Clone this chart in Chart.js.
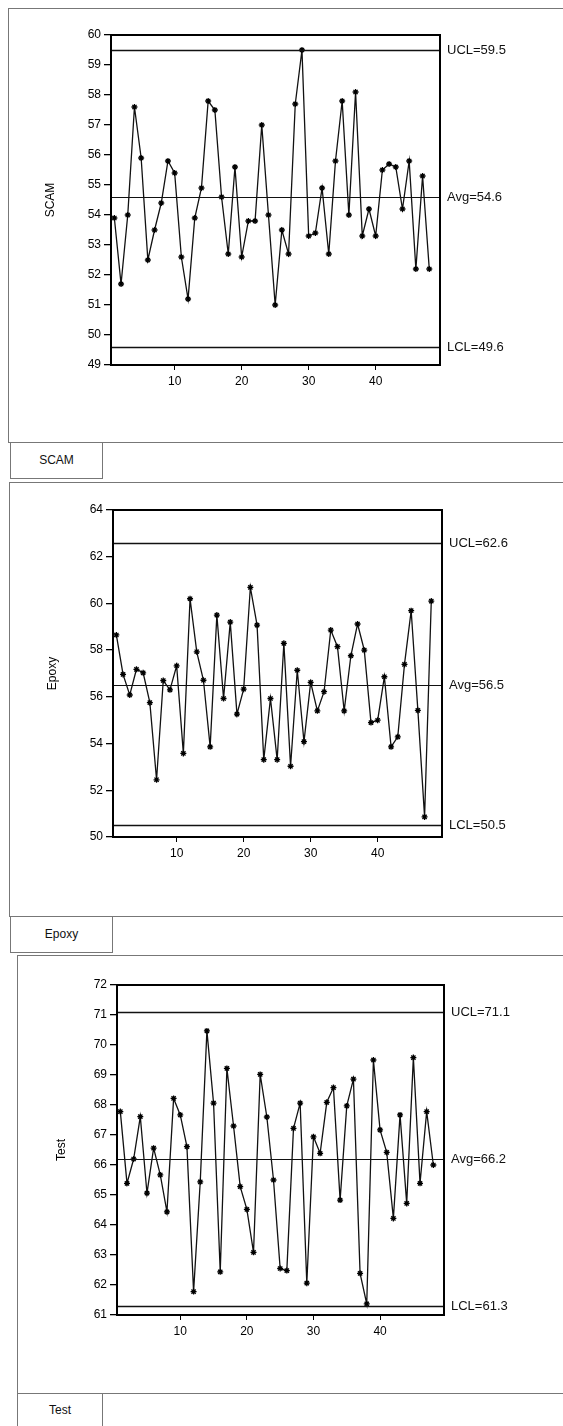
<!DOCTYPE html>
<html>
<head>
<meta charset="utf-8">
<script src="https://cdn.jsdelivr.net/npm/chart.js@4.4.0/dist/chart.umd.min.js"></script>
<style>
  html, body { margin: 0; padding: 0; background: #fff; }
  body { width: 563px; height: 1426px; position: relative; overflow: hidden;
         font-family: "Liberation Sans", Arial, sans-serif; }
  .panel { position: absolute; border: 1px solid #777; border-right: none; }
  .tab { position: absolute; border: 1px solid #777; border-top: none;
         font-size: 12px; color: #111; text-align: center; box-sizing: border-box; }
  canvas { position: absolute; }
</style>
</head>
<body>
<div class="panel" style="left:8px; top:8px; width:600px; height:433px;"></div>
<div class="tab" style="left:10px; top:442px; width:93px; height:37px; line-height:36px;">SCAM</div>
<canvas id="c1" style="left:0px; top:0px;" width="563" height="440"></canvas>

<div class="panel" style="left:9px; top:482px; width:600px; height:433px;"></div>
<div class="tab" style="left:10px; top:916px; width:103px; height:37px; line-height:36px;">Epoxy</div>
<canvas id="c2" style="left:0px; top:480px;" width="563" height="435"></canvas>

<div class="panel" style="left:17px; top:955px; width:600px; height:480px; border-bottom:none;"></div>
<div class="panel" style="left:17px; top:1393px; width:600px; height:40px; border-left:none; border-bottom:none;"></div>
<div class="tab" style="left:17px; top:1393px; width:86px; height:40px; line-height:34px; border-top:none;">Test</div>
<canvas id="c3" style="left:0px; top:955px;" width="563" height="440"></canvas>

<script>
// sample numbers (x axis)
var samples = [1, 2, 3, 4, 5, 6, 7, 8, 9, 10, 11, 12, 13, 14, 15, 16, 17, 18, 19, 20,
    21, 22, 23, 24, 25, 26, 27, 28, 29, 30, 31, 32, 33, 34, 35, 36, 37, 38, 39, 40,
    41, 42, 43, 44, 45, 46, 47, 48];
var xTicks = [10, 20, 30, 40];

var scamValues = [53.9, 51.7, 54.0, 57.6, 55.9, 52.5, 53.5, 54.4, 55.8, 55.4,
    52.6, 51.2, 53.9, 54.9, 57.8, 57.5, 54.6, 52.7, 55.6, 52.6,
    53.8, 53.8, 57.0, 54.0, 51.0, 53.5, 52.7, 57.7, 59.5, 53.3,
    53.4, 54.9, 52.7, 55.8, 57.8, 54.0, 58.1, 53.3, 54.2, 53.3,
    55.5, 55.7, 55.6, 54.2, 55.8, 52.2, 55.3, 52.2];
var scamLimits = [59.5, 54.6, 49.6]; // UCL, Avg, LCL
var scamTicks = [49, 50, 51, 52, 53, 54, 55, 56, 57, 58, 59, 60];

var epoxyValues = [58.65, 56.96, 56.08, 57.18, 57.03, 55.75, 52.45, 56.7, 56.3, 57.33,
    53.58, 60.2, 57.93, 56.71, 53.86, 59.5, 55.93, 59.2, 55.26, 56.33,
    60.69, 59.07, 53.31, 55.93, 53.31, 58.29, 53.03, 57.14, 54.08, 56.62,
    55.4, 56.22, 58.86, 58.15, 55.4, 57.76, 59.12, 58.0, 54.9, 55.0,
    56.86, 53.86, 54.29, 57.39, 59.69, 55.42, 50.86, 60.1];
var epoxyLimits = [62.6, 56.5, 50.5];
var epoxyTicks = [50, 52, 54, 56, 58, 60, 62, 64];

var testValues = [67.78, 65.39, 66.2, 67.61, 65.06, 66.56, 65.67, 64.44, 68.22, 67.67,
    66.61, 61.78, 65.44, 70.47, 68.06, 62.44, 69.22, 67.3, 65.28, 64.52,
    63.09, 69.02, 67.6, 65.5, 62.55, 62.48, 67.22, 68.06, 62.06, 66.94,
    66.39, 68.09, 68.58, 64.83, 67.97, 68.86, 62.39, 61.37, 69.5, 67.17,
    66.42, 64.22, 67.67, 64.72, 69.58, 65.39, 67.78, 66.0];
var testLimits = [71.1, 66.2, 61.3];
var testTicks = [61, 62, 63, 64, 65, 66, 67, 68, 69, 70, 71, 72];

var FONT = '"Liberation Sans", Arial, sans-serif';

var controlLines = {
    id: 'controlLines',
    afterDatasetsDraw: function (chart, args, opts) {
        var ctx = chart.ctx;
        var area = chart.chartArea;
        var y = chart.scales.y;
        var names = ['UCL', 'Avg', 'LCL'];
        ctx.save();
        for (var i = 0; i < opts.limits.length; i++) {
            var py = Math.round(y.getPixelForValue(opts.limits[i])) + 0.5;
            ctx.beginPath();
            ctx.strokeStyle = '#111';
            ctx.lineWidth = i === 1 ? 1 : 1.6;
            ctx.moveTo(area.left, py);
            ctx.lineTo(area.right, py);
            ctx.stroke();
            ctx.fillStyle = '#111';
            ctx.font = '13px ' + FONT;
            ctx.textBaseline = 'middle';
            ctx.textAlign = 'left';
            ctx.fillText(names[i] + '=' + opts.limits[i].toFixed(1), area.right + 7, py);
        }
        // frame round the plot
        ctx.lineWidth = 2;
        ctx.strokeStyle = '#000';
        ctx.strokeRect(area.left, area.top, area.right - area.left, area.bottom - area.top);
        ctx.restore();
    }
};

function makeChart(key, title, values, limits, yTicks, box) {
    var config = {
        type: 'line',
        data: {
            labels: samples,
            datasets: [{
                label: title,
                data: values,
                borderColor: '#111',
                borderWidth: 1.3,
                pointStyle: 'star',
                pointRadius: 3,
                pointBorderWidth: 1.3,
                pointBorderColor: '#000',
                pointBackgroundColor: '#000',
                tension: 0,
                fill: false
            }]
        },
        options: {
            responsive: false,
            animation: false,
            events: [],
            layout: {
                padding: { top: box.top, right: box.right, bottom: box.bottom, left: 0 }
            },
            plugins: {
                legend: { display: false },
                title: { display: false },
                tooltip: { enabled: false },
                controlLines: { limits: limits }
            },
            scales: {
                x: {
                    type: 'linear',
                    min: 0.5,
                    max: 49.6,
                    afterBuildTicks: function (scale) {
                        scale.ticks = xTicks.map(function (v) { return { value: v }; });
                    },
                    afterFit: function (scale) { scale.height = 30; },
                    grid: { drawOnChartArea: false, drawTicks: true, tickLength: 5, color: '#000', lineWidth: 1 },
                    border: { display: false },
                    ticks: { color: '#000', font: { family: FONT, size: 12 }, padding: 4, maxRotation: 0 }
                },
                y: {
                    min: yTicks[0],
                    max: yTicks[yTicks.length - 1],
                    afterBuildTicks: function (scale) {
                        scale.ticks = yTicks.map(function (v) { return { value: v }; });
                    },
                    afterFit: function (scale) { scale.width = box.left; },
                    grid: { drawOnChartArea: false, drawTicks: true, tickLength: 7, color: '#000', lineWidth: 1.3 },
                    border: { display: false },
                    title: {
                        display: true,
                        text: title,
                        color: '#000',
                        font: { family: FONT, size: 12 },
                        padding: { top: box.titleX - 7, bottom: 0 }
                    },
                    ticks: { color: '#000', font: { family: FONT, size: 12 }, padding: 3 }
                }
            }
        },
        plugins: [controlLines]
    };
    var ctx = document.getElementById(key).getContext('2d');
    return new Chart(ctx, config);
}

makeChart('c1', 'SCAM', scamValues, scamLimits, scamTicks,
    { left: 111, top: 35, right: 123, bottom: 45, titleX: 50 });
makeChart('c2', 'Epoxy', epoxyValues, epoxyLimits, epoxyTicks,
    { left: 113, top: 30, right: 121, bottom: 48, titleX: 52 });
makeChart('c3', 'Test', testValues, testLimits, testTicks,
    { left: 117, top: 30, right: 119, bottom: 50, titleX: 61 });
</script>
</body>
</html>
